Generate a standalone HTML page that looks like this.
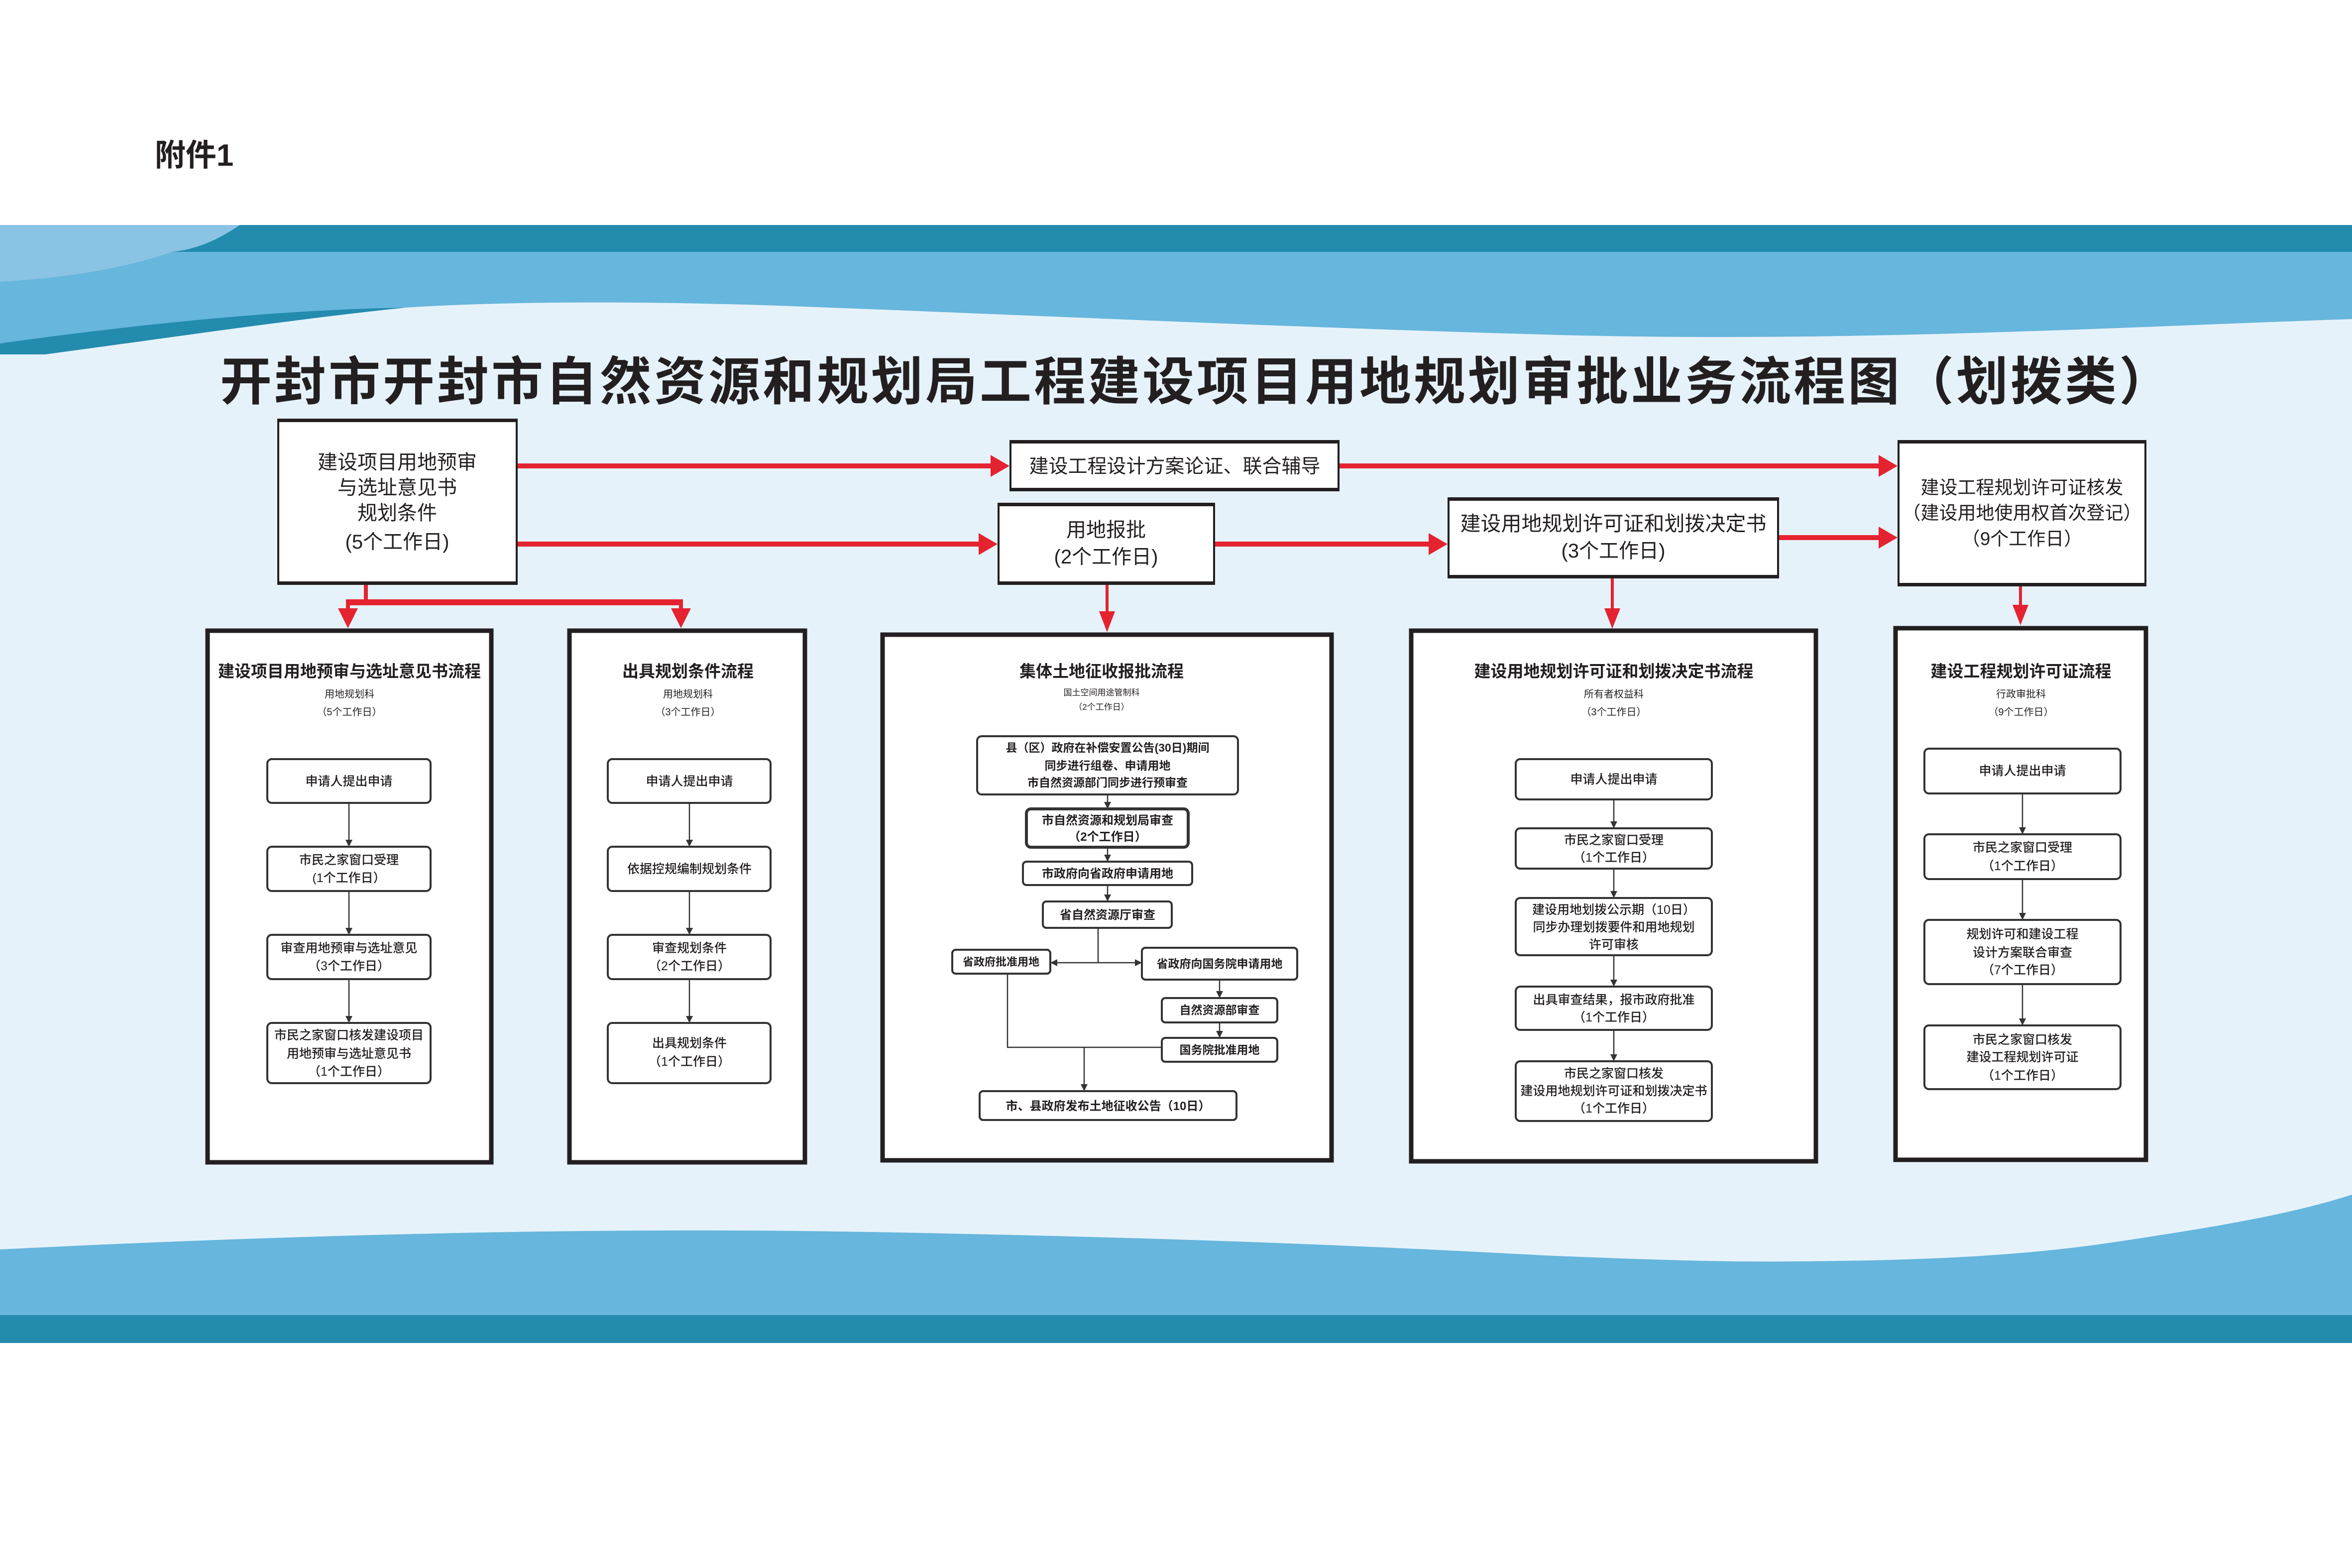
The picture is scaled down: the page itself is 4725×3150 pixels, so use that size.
<!DOCTYPE html>
<html><head><meta charset="utf-8">
<style>
html,body{margin:0;padding:0;background:#fff;}
svg{display:block;}
text{font-family:"Liberation Sans","Noto Sans CJK SC","WenQuanYi Zen Hei",sans-serif;fill:#231f20;text-anchor:middle;}
.b{font-weight:bold;}
</style></head>
<body>
<svg width="4725" height="3150" viewBox="0 0 4725 3150" xmlns="http://www.w3.org/2000/svg">
<defs>
<marker id="ah" markerWidth="14" markerHeight="14" refX="12" refY="7" orient="auto" markerUnits="userSpaceOnUse">
<path d="M0,0 L14,7 L0,14 Z" fill="#333"/>
</marker>
</defs>
<rect x="0" y="0" width="4725" height="3150" fill="#fff"/>
<text x="390" y="333" font-size="62" class="b">附件1</text>

<!-- background -->
<rect x="0" y="500" width="4725" height="2198" fill="#e6f2fa"/>
<rect x="0" y="452" width="4725" height="56" fill="#238bae"/>
<path d="M0,506 H4725 V641 C4300,655 3700,690 3100,672 C2500,655 1900,625 1500,612 C1250,605 1000,606 814,618 C500,630 200,665 0,690 Z" fill="#66b6dd"/>
<path d="M0,690 C250,655 550,622 814,618 C600,640 330,680 90,712 L0,712 Z" fill="#238bae"/>
<path d="M0,452 H482 C440,480 400,500 346,506 C250,540 120,560 0,566 Z" fill="#8bc3e5"/>
<path d="M0,2510 C600,2480 1200,2465 1748,2475 C2300,2485 2700,2500 3100,2522 C3300,2530 3450,2536 3616,2534 C3850,2532 4050,2525 4250,2495 C4450,2465 4600,2440 4725,2400 V2642 H0 Z" fill="#66b6dd"/>
<rect x="0" y="2642" width="4725" height="56" fill="#238bae"/>

<!-- title -->
<text x="2404" y="803" font-size="104" class="b" letter-spacing="5">开封市开封市自然资源和规划局工程建设项目用地规划审批业务流程图（划拨类）</text>

<!-- top boxes -->
<g fill="#fff" stroke="#231f20" stroke-width="4">
<rect x="559" y="843" width="479" height="330"/>
<rect x="2030" y="886" width="659" height="99"/>
<rect x="2006" y="1012" width="433" height="161"/>
<rect x="2910" y="1001" width="662" height="159"/>
<rect x="3814" y="886" width="496" height="290"/>
</g>
<g fill="#231f20">
<rect x="557" y="841" width="483" height="7"/><rect x="557" y="1168" width="483" height="7"/>
<rect x="2028" y="884" width="663" height="7"/><rect x="2028" y="980" width="663" height="7"/>
<rect x="2004" y="1010" width="437" height="7"/><rect x="2004" y="1168" width="437" height="7"/>
<rect x="2908" y="999" width="666" height="7"/><rect x="2908" y="1155" width="666" height="7"/>
<rect x="3812" y="884" width="500" height="7"/><rect x="3812" y="1171" width="500" height="7"/>
</g>
<g font-size="40">
<text x="798" y="942">建设项目用地预审</text>
<text x="798" y="993">与选址意见书</text>
<text x="798" y="1044">规划条件</text>
<text x="798" y="1102">(5个工作日)</text>
<text x="2360" y="950" font-size="39">建设工程设计方案论证、联合辅导</text>
<text x="2222" y="1078">用地报批</text>
<text x="2222" y="1132">(2个工作日)</text>
<text x="3241" y="1066" font-size="41">建设用地规划许可证和划拨决定书</text>
<text x="3241" y="1120">(3个工作日)</text>
<text x="4062" y="992" font-size="37">建设工程规划许可证核发</text>
<text x="4062" y="1043" font-size="37">（建设用地使用权首次登记）</text>
<text x="4062" y="1095" font-size="37">（9个工作日）</text>
</g>

<!-- red connectors -->
<g fill="#e52330">
<rect x="1040" y="931" width="955" height="10"/><polygon points="1990,914 2028,936 1990,958"/>
<rect x="2691" y="931" width="1087" height="10"/><polygon points="3774,914 3812,936 3774,958"/>
<rect x="1040" y="1088" width="930" height="10"/><polygon points="1966,1071 2004,1093 1966,1115"/>
<rect x="2441" y="1088" width="433" height="10"/><polygon points="2870,1071 2908,1093 2870,1115"/>
<rect x="3574" y="1075" width="204" height="10"/><polygon points="3774,1058 3812,1080 3774,1102"/>
<rect x="731" y="1175" width="8" height="38"/>
<rect x="695" y="1204" width="677" height="12"/>
<rect x="695" y="1210" width="8" height="16"/><polygon points="679,1222 719,1222 699,1262"/>
<rect x="1364" y="1210" width="8" height="16"/><polygon points="1348,1222 1388,1222 1368,1262"/>
<rect x="2221" y="1175" width="6" height="58"/><polygon points="2208,1228 2240,1228 2224,1270"/>
<rect x="3236" y="1162" width="6" height="64"/><polygon points="3223,1222 3255,1222 3239,1263"/>
<rect x="4056" y="1178" width="6" height="40"/><polygon points="4043,1215 4075,1215 4059,1256"/>
</g>

<!-- panels -->
<g fill="#fff" stroke="#231f20" stroke-width="9">
<rect x="417" y="1267" width="570" height="1068"/>
<rect x="1144" y="1267" width="473" height="1068"/>
<rect x="1773" y="1275" width="902" height="1056"/>
<rect x="2835" y="1267" width="813" height="1066"/>
<rect x="3808" y="1262" width="503" height="1068"/>
</g>

<!-- panel titles -->
<g>
<text x="702" y="1360" font-size="33" class="b">建设项目用地预审与选址意见书流程</text>
<text x="702" y="1401" font-size="20">用地规划科</text>
<text x="702" y="1437" font-size="20">（5个工作日）</text>
<text x="1382" y="1360" font-size="33" class="b">出具规划条件流程</text>
<text x="1382" y="1401" font-size="20">用地规划科</text>
<text x="1382" y="1437" font-size="20">（3个工作日）</text>
<text x="2213" y="1360" font-size="33" class="b">集体土地征收报批流程</text>
<text x="2213" y="1397" font-size="17">国土空间用途管制科</text>
<text x="2213" y="1426" font-size="17">（2个工作日）</text>
<text x="3242" y="1360" font-size="33" class="b">建设用地规划许可证和划拨决定书流程</text>
<text x="3242" y="1401" font-size="20">所有者权益科</text>
<text x="3242" y="1437" font-size="20">（3个工作日）</text>
<text x="4060" y="1360" font-size="33" class="b">建设工程规划许可证流程</text>
<text x="4060" y="1401" font-size="20">行政审批科</text>
<text x="4060" y="1437" font-size="20">（9个工作日）</text>
</g>

<!-- inner boxes -->
<g fill="#fff" stroke="#333" stroke-width="4">
<rect x="537" y="1525" width="328" height="88" rx="9"/>
<rect x="537" y="1701" width="328" height="89" rx="9"/>
<rect x="537" y="1878" width="328" height="89" rx="9"/>
<rect x="537" y="2055" width="328" height="121" rx="9"/>
<rect x="1221" y="1525" width="327" height="88" rx="9"/>
<rect x="1221" y="1701" width="327" height="89" rx="9"/>
<rect x="1221" y="1878" width="327" height="89" rx="9"/>
<rect x="1221" y="2055" width="327" height="121" rx="9"/>
<rect x="1963" y="1479" width="524" height="117" rx="9"/>
<rect x="2062" y="1625" width="325" height="77" rx="9" stroke-width="6"/>
<rect x="2055" y="1731" width="340" height="47" rx="7"/>
<rect x="2095" y="1811" width="259" height="53" rx="7"/>
<rect x="1913" y="1908" width="197" height="48" rx="7"/>
<rect x="2294" y="1904" width="312" height="64" rx="7"/>
<rect x="2334" y="2005" width="232" height="49" rx="7"/>
<rect x="2334" y="2085" width="232" height="48" rx="7"/>
<rect x="1968" y="2192" width="516" height="58" rx="7"/>
<rect x="3045" y="1525" width="394" height="81" rx="9"/>
<rect x="3045" y="1664" width="394" height="81" rx="9"/>
<rect x="3045" y="1804" width="394" height="115" rx="9"/>
<rect x="3045" y="1982" width="394" height="87" rx="9"/>
<rect x="3045" y="2132" width="394" height="120" rx="9"/>
<rect x="3866" y="1504" width="394" height="90" rx="9"/>
<rect x="3866" y="1676" width="394" height="90" rx="9"/>
<rect x="3866" y="1848" width="394" height="129" rx="9"/>
<rect x="3866" y="2060" width="394" height="128" rx="9"/>
</g>

<!-- gray connectors -->
<g stroke="#333" stroke-width="2.5" fill="none" marker-end="url(#ah)">
<line x1="701" y1="1613" x2="701" y2="1699"/>
<line x1="701" y1="1790" x2="701" y2="1876"/>
<line x1="701" y1="1967" x2="701" y2="2053"/>
<line x1="1385" y1="1613" x2="1385" y2="1699"/>
<line x1="1385" y1="1790" x2="1385" y2="1876"/>
<line x1="1385" y1="1967" x2="1385" y2="2053"/>
<line x1="2225" y1="1596" x2="2225" y2="1623"/>
<line x1="2225" y1="1702" x2="2225" y2="1729"/>
<line x1="2225" y1="1778" x2="2225" y2="1809"/>
<line x1="2206" y1="1934" x2="2112" y2="1934"/>
<line x1="2206" y1="1934" x2="2292" y2="1934"/>
<line x1="2450" y1="1968" x2="2450" y2="2003"/>
<line x1="2450" y1="2054" x2="2450" y2="2083"/>
<line x1="2178" y1="2104" x2="2178" y2="2190"/>
<line x1="3242" y1="1606" x2="3242" y2="1662"/>
<line x1="3242" y1="1745" x2="3242" y2="1802"/>
<line x1="3242" y1="1919" x2="3242" y2="1980"/>
<line x1="3242" y1="2069" x2="3242" y2="2130"/>
<line x1="4063" y1="1594" x2="4063" y2="1674"/>
<line x1="4063" y1="1766" x2="4063" y2="1846"/>
<line x1="4063" y1="1977" x2="4063" y2="2058"/>
</g>
<g stroke="#333" stroke-width="2.5" fill="none">
<line x1="2206" y1="1864" x2="2206" y2="1934"/>
<polyline points="2024,1956 2024,2104 2334,2104"/>
</g>

<!-- inner text -->
<g font-size="25" font-weight="500">
<text x="701" y="1578">申请人提出申请</text>
<text x="701" y="1736">市民之家窗口受理</text>
<text x="701" y="1772">(1个工作日）</text>
<text x="701" y="1913">审查用地预审与选址意见</text>
<text x="701" y="1949">（3个工作日）</text>
<text x="701" y="2088">市民之家窗口核发建设项目</text>
<text x="701" y="2125">用地预审与选址意见书</text>
<text x="701" y="2161">（1个工作日）</text>
<text x="1385" y="1578">申请人提出申请</text>
<text x="1385" y="1754">依据控规编制规划条件</text>
<text x="1385" y="1913">审查规划条件</text>
<text x="1385" y="1949">（2个工作日）</text>
<text x="1385" y="2104">出具规划条件</text>
<text x="1385" y="2141">（1个工作日）</text>

<text x="3242" y="1574">申请人提出申请</text>
<text x="3242" y="1696">市民之家窗口受理</text>
<text x="3242" y="1731">（1个工作日）</text>
<text x="3242" y="1836">建设用地划拨公示期（10日）</text>
<text x="3242" y="1871">同步办理划拨要件和用地规划</text>
<text x="3242" y="1906">许可审核</text>
<text x="3242" y="2017">出具审查结果，报市政府批准</text>
<text x="3242" y="2052">（1个工作日）</text>
<text x="3242" y="2165">市民之家窗口核发</text>
<text x="3242" y="2200">建设用地规划许可证和划拨决定书</text>
<text x="3242" y="2235">（1个工作日）</text>

<text x="4063" y="1557">申请人提出申请</text>
<text x="4063" y="1711">市民之家窗口受理</text>
<text x="4063" y="1748">（1个工作日）</text>
<text x="4063" y="1885">规划许可和建设工程</text>
<text x="4063" y="1922">设计方案联合审查</text>
<text x="4063" y="1957">（7个工作日）</text>
<text x="4063" y="2097">市民之家窗口核发</text>
<text x="4063" y="2132">建设工程规划许可证</text>
<text x="4063" y="2169">（1个工作日）</text>
</g>
<g font-size="23" class="b">
<text x="2225" y="1510">县（区）政府在补偿安置公告(30日)期间</text>
<text x="2225" y="1546">同步进行组卷、申请用地</text>
<text x="2225" y="1580">市自然资源部门同步进行预审查</text>
<text x="2225" y="1656" font-size="24">市自然资源和规划局审查</text>
<text x="2225" y="1689" font-size="24">（2个工作日）</text>
<text x="2225" y="1763" font-size="24">市政府向省政府申请用地</text>
<text x="2225" y="1846" font-size="24">省自然资源厅审查</text>
<text x="2011" y="1940" font-size="22">省政府批准用地</text>
<text x="2450" y="1944">省政府向国务院申请用地</text>
<text x="2450" y="2037">自然资源部审查</text>
<text x="2450" y="2117">国务院批准用地</text>
<text x="2226" y="2230" font-size="24">市、县政府发布土地征收公告（10日）</text>
</g>
</svg>
</body></html>
